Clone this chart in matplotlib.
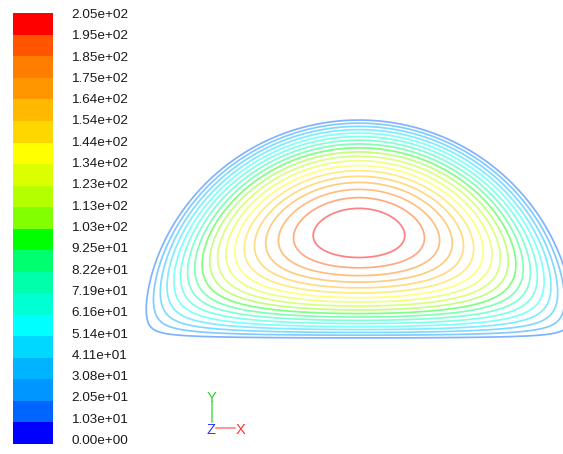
import numpy as np
import matplotlib
matplotlib.use("Agg")
import matplotlib.pyplot as plt
from matplotlib.colors import ListedColormap, BoundaryNorm

# ---------------- data ----------------
tick_labels = ["0.00e+00", "1.03e+01", "2.05e+01", "3.08e+01", "4.11e+01",
               "5.14e+01", "6.16e+01", "7.19e+01", "8.22e+01", "9.25e+01",
               "1.03e+02", "1.13e+02", "1.23e+02", "1.34e+02", "1.44e+02",
               "1.54e+02", "1.64e+02", "1.75e+02", "1.85e+02", "1.95e+02",
               "2.05e+02"]
vmin, vmax = 0.0, 205.4
n_bands = 20
band_colors = ["#0000ff", "#0064ff", "#0096ff", "#00b4ff", "#00d8ff",
               "#00ffff", "#00ffd2", "#00ffaa", "#00ff6e", "#00ff00",
               "#82ff00", "#b4ff00", "#dcff00", "#ffff00", "#ffd700",
               "#ffb900", "#ff9600", "#ff7d00", "#ff5500", "#ff0000"]
peak_velocity = 205.0   # centreline maximum of the duct flow

# ---------------- figure ----------------
W, H = 563, 454
fig = plt.figure(figsize=(W / 100, H / 100), dpi=100)
ax = fig.add_axes([0, 0, 1, 1])
ax.set_xlim(0, W)
ax.set_ylim(H, 0)
ax.axis("off")

font = "Liberation Sans"

# ---- colour bar ----
levels = np.linspace(vmin, vmax, n_bands + 1)
cmap = ListedColormap(band_colors)
norm = BoundaryNorm(levels, cmap.N)
bar_x = np.array([12.7, 53.3])
bar_y = np.linspace(444.0, 13.3, n_bands + 1)
band_vals = 0.5 * (levels[:-1] + levels[1:])
ax.pcolormesh(bar_x, bar_y, band_vals[:, None], cmap=cmap, norm=norm,
              shading="flat")
label_y = np.linspace(441.0, 15.0, n_bands + 1)
for lab, yy in zip(tick_labels, label_y):
    ax.text(71.5, yy, lab, ha="left", va="center", fontsize=9.7,
            family=font, color="#1a1a1a")

# ---- velocity field in the semicircular duct (laminar Poisson solution) ----
nx, ny = 800, 400
X, Y = np.meshgrid(np.linspace(-1.0, 1.0, nx), np.linspace(0.0, 1.0, ny))
r = np.hypot(X, Y)
th = np.arctan2(Y, X)
u = -0.5 * (r * np.sin(th)) ** 2
for n in range(1, 260, 2):
    bn = -8.0 / (np.pi * n * (n * n - 4.0))
    u += 0.5 * bn * r ** n * np.sin(n * th)
u[r > 1.0] = -1.0
u = u / u.max() * peak_velocity

# map normalised duct coordinates onto the drawing
cx, a = 359.0, 222.0
by, b = 340.5, 223.5
PX = cx + a * X
PY = by - b * Y

line_levels = levels[1:-1]
line_cols = []
for k in range(1, n_bands):
    c = np.array(matplotlib.colors.to_rgb(band_colors[k]))
    line_cols.append(tuple(c * 0.5 + 0.5))
ax.contour(PX, PY, u, levels=line_levels, colors=line_cols, linewidths=1.25)

# ---- axis triad ----
ax.plot([212.3, 212.3], [421.5, 402.0], color="#55dd55", lw=1.1)
ax.plot([216.0, 235.0], [427.7, 427.7], color="#ff7777", lw=1.1)
ax.text(211.5, 397.5, "Y", color="#33cc33", fontsize=10.5, family=font,
        ha="center", va="center")
ax.text(211.0, 429.5, "Z", color="#3333ff", fontsize=10.5, family=font,
        ha="center", va="center")
ax.text(240.5, 429.5, "X", color="#ff3333", fontsize=10.5, family=font,
        ha="center", va="center")

fig.savefig("out.png", dpi=100)
